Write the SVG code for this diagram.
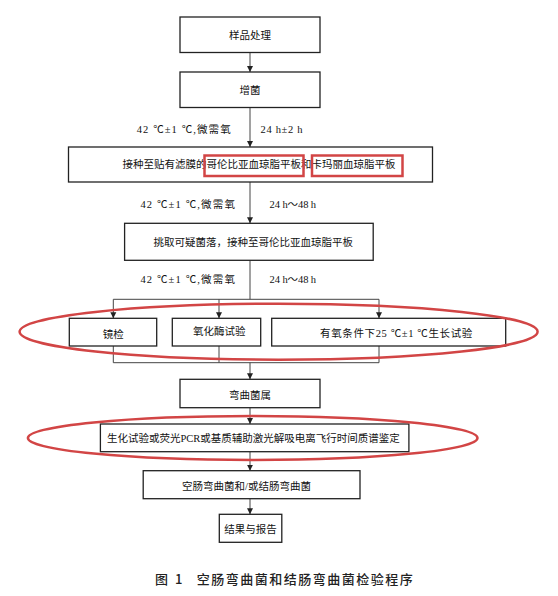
<svg xmlns="http://www.w3.org/2000/svg" width="558" height="596" viewBox="0 0 558 596">
<style>
.box{fill:#fff;stroke:#222;stroke-width:1.3}
.t{font-family:"Liberation Serif","Noto Sans CJK SC",serif;font-size:10.5px;fill:#111}
.c{text-anchor:middle}
.ln{fill:none;stroke:#444;stroke-width:1}
.red{fill:none;stroke:#d24545;stroke-width:2.5}
.cap{font-family:"Noto Sans CJK SC","Liberation Sans",sans-serif;font-size:13px;font-weight:500;fill:#222;letter-spacing:1.5px}
</style>
<defs>
<marker id="ah" viewBox="0 0 6 8" refX="6" refY="4" markerWidth="6" markerHeight="8" markerUnits="userSpaceOnUse" orient="auto">
<path d="M0,1 L6,4 L0,7 Z" fill="#222"/>
</marker>
</defs>
<rect width="558" height="596" fill="#fff"/>

<g id="connectors">
<line class="ln" x1="250" y1="52.5" x2="250" y2="72" marker-end="url(#ah)"/>
<line class="ln" x1="250" y1="107.5" x2="250" y2="147" marker-end="url(#ah)"/>
<line class="ln" x1="250" y1="182" x2="250" y2="223.3" marker-end="url(#ah)"/>
<line class="ln" x1="250" y1="260.3" x2="250" y2="299.3"/>
<line class="ln" x1="113.3" y1="299.3" x2="379" y2="299.3"/>
<line class="ln" x1="113.3" y1="299.3" x2="113.3" y2="318.3" marker-end="url(#ah)"/>
<line class="ln" x1="219" y1="299.3" x2="219" y2="318.3" marker-end="url(#ah)"/>
<line class="ln" x1="379" y1="299.3" x2="379" y2="318.3" marker-end="url(#ah)"/>
<line class="ln" x1="113.3" y1="346" x2="113.3" y2="362.7"/>
<line class="ln" x1="219" y1="346" x2="219" y2="362.7"/>
<line class="ln" x1="379" y1="346" x2="379" y2="362.7"/>
<line class="ln" x1="113.3" y1="362.7" x2="379" y2="362.7"/>
<line class="ln" x1="250" y1="362.7" x2="250" y2="379.3" marker-end="url(#ah)"/>
<line class="ln" x1="250" y1="407.7" x2="250" y2="424" marker-end="url(#ah)"/>
<line class="ln" x1="250" y1="451.7" x2="250" y2="470.7" marker-end="url(#ah)"/>
<line class="ln" x1="250" y1="498.7" x2="250" y2="514.3" marker-end="url(#ah)"/>
</g>

<g id="labels">
<text class="t" x="136.7" y="132.8" textLength="94" lengthAdjust="spacing">42 ℃±1 ℃,微需氧</text>
<text class="t" x="260.5" y="132.8" textLength="42" lengthAdjust="spacing">24 h±2 h</text>
<text class="t" x="140.4" y="208" textLength="94.5" lengthAdjust="spacing">42 ℃±1 ℃,微需氧</text>
<text class="t" x="269.6" y="208" textLength="46.5" lengthAdjust="spacing">24 h～48 h</text>
<text class="t" x="140.4" y="283" textLength="94.5" lengthAdjust="spacing">42 ℃±1 ℃,微需氧</text>
<text class="t" x="269.6" y="283" textLength="46.5" lengthAdjust="spacing">24 h～48 h</text>
</g>

<g id="n1">
<rect class="box" x="180" y="17" width="140" height="35.5"/>
<text class="t c" x="250" y="38.7">样品处理</text>
</g>
<g id="n2">
<rect class="box" x="180" y="72" width="140" height="35.5"/>
<text class="t c" x="250" y="93.7">增菌</text>
</g>
<g id="n3">
<rect class="box" x="68.5" y="147" width="364" height="35"/>
<text class="t" x="122.5" y="167.7">接种至贴有滤膜的哥伦比亚血琼脂平板和卡玛丽血琼脂平板</text>
</g>
<g id="n4">
<rect class="box" x="124.6" y="223.3" width="248.6" height="37"/>
<text class="t" x="153.6" y="246">挑取可疑菌落，接种至哥伦比亚血琼脂平板</text>
</g>
<g id="n5">
<rect class="box" x="69.3" y="318.3" width="87.4" height="27.7"/>
<text class="t c" x="113.3" y="337.7">镜检</text>
</g>
<g id="n6">
<rect class="box" x="172.3" y="318.3" width="88.4" height="27.7"/>
<text class="t c" x="219.3" y="335.4">氧化酶试验</text>
</g>
<g id="n7">
<rect class="box" x="271.7" y="318.3" width="234" height="27.7"/>
<text class="t" x="320" y="337" textLength="152.3" lengthAdjust="spacing">有氧条件下25 ℃±1 ℃生长试验</text>
</g>
<g id="n8">
<rect class="box" x="180" y="379.3" width="140" height="28.4"/>
<text class="t c" x="250" y="398.7">弯曲菌属</text>
</g>
<g id="n9">
<rect class="box" x="100.4" y="424" width="308.5" height="27.7"/>
<text class="t" x="107" y="442">生化试验或荧光PCR或基质辅助激光解吸电离飞行时间质谱鉴定</text>
</g>
<g id="n10">
<rect class="box" x="143.2" y="470.7" width="216.8" height="28"/>
<text class="t" x="182" y="490.4">空肠弯曲菌和/或结肠弯曲菌</text>
</g>
<g id="n11">
<rect class="box" x="219.3" y="514.3" width="62.5" height="28"/>
<text class="t c" x="250.5" y="532.7">结果与报告</text>
</g>

<g id="highlights">
<rect class="red" x="204.5" y="155.5" width="99" height="20.5"/>
<rect class="red" x="312" y="155.5" width="90.5" height="20.5"/>
<ellipse class="red" cx="278.6" cy="331.7" rx="259" ry="28"/>
<ellipse class="red" cx="252.7" cy="438" rx="224.8" ry="22"/>
</g>

<g id="caption">
<text class="cap" x="155" y="584">图</text>
<text class="cap" x="175" y="584">1</text>
<text class="cap" x="196.7" y="584">空肠弯曲菌和结肠弯曲菌检验程序</text>
</g>
</svg>
